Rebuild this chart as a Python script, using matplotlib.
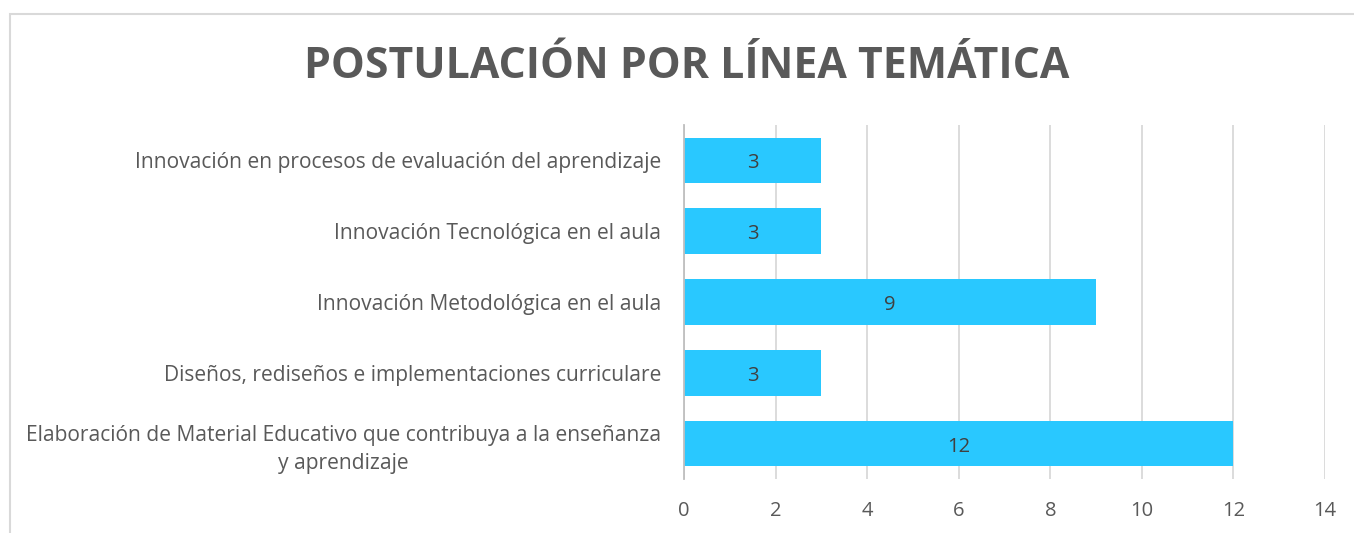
import matplotlib
matplotlib.use("Agg")
import matplotlib.pyplot as plt
from matplotlib.patches import Rectangle
from matplotlib.transforms import offset_copy

categories = [
    "Elaboración de Material Educativo que contribuya a la enseñanza\ny aprendizaje",
    "Diseños, rediseños e implementaciones curriculare",
    "Innovación Metodológica en el aula",
    "Innovación Tecnológica en el aula",
    "Innovación en procesos de evaluación del aprendizaje",
]
values = [12, 3, 9, 3, 3]
xticks = [0, 2, 4, 6, 8, 10, 12, 14]
title = "POSTULACIÓN POR LÍNEA TEMÁTICA"

plt.rcParams['font.family'] = ['Open Sans', 'DejaVu Sans']
gray = "#595959"

fig = plt.figure(figsize=(13.54, 5.33), dpi=100)
fig.patches.append(Rectangle((10/1354, -0.1), 1.2, 1 - 13.5/533 + 0.1, transform=fig.transFigure,
                             fill=False, edgecolor="#D9D9D9", linewidth=1.5))
ax = fig.add_axes([684/1354, 1 - 479/533, (1325-684)/1354, (479-125)/533])

y = range(len(categories))
bars = ax.barh(y, values, height=0.645, color="#29C8FF", zorder=3)
lbl_tr = offset_copy(ax.transData, fig=fig, x=0, y=-3, units="dots")
for b, v in zip(bars, values):
    ax.text(b.get_width()/2, b.get_y() + b.get_height()/2, str(v), ha="center", va="center",
            fontsize=14.5, color="#404040", zorder=4, transform=lbl_tr)

ax.set_xlim(0, 14)
ax.set_ylim(-0.5, len(categories) - 0.5)
ax.set_xticks(xticks)
ax.set_xticklabels([str(t) for t in xticks], fontsize=14.5, color=gray)
ax.set_yticks(list(y))
ax.set_yticklabels(categories, fontsize=15.1, color=gray, multialignment="center", linespacing=1.4)
ax.tick_params(axis="both", length=0)
ax.tick_params(axis="y", pad=16.5)
ax.tick_params(axis="x", pad=16)
ax.grid(axis="x", color="#D9D9D9", linewidth=1.3, zorder=0)
for s in ["top", "right", "bottom"]:
    ax.spines[s].set_visible(False)
ax.spines["left"].set_color("#BFBFBF")
ax.spines["left"].set_linewidth(1.3)
ax.spines["left"].set_zorder(5)

fig.text(687/1354, 1 - 67/533, title, ha="center", va="center", fontsize=30.8, fontweight="bold", color=gray)

fig.savefig("out.png", dpi=100)
